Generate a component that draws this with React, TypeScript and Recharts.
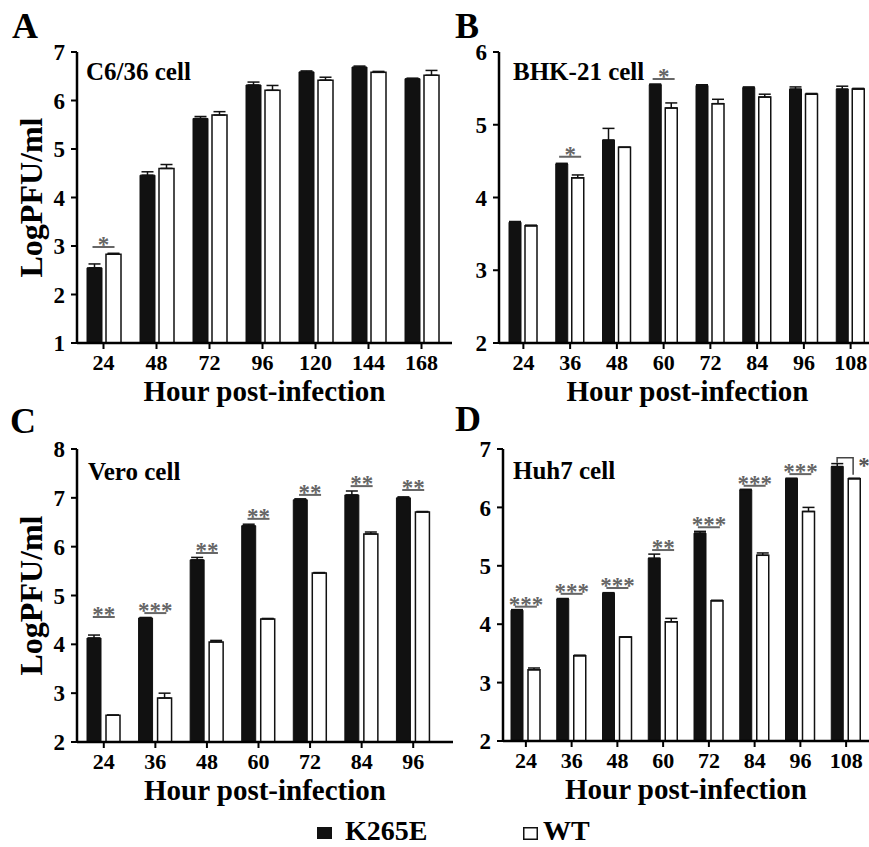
import React from 'react';
import { ComposedChart, Bar, Line, XAxis, YAxis, ErrorBar } from 'recharts';

const FONT = '"Liberation Serif", "Times New Roman", serif';

// A: C6/36 cell
const hoursA = ['24', '48', '72', '96', '120', '144', '168'];
const mutantA = [2.55, 4.46, 5.63, 6.32, 6.59, 6.69, 6.45];
const mutantErrA = [0.08, 0.07, 0.04, 0.06, 0.02, 0.02, 0.01];
const wtA = [2.83, 4.6, 5.7, 6.21, 6.42, 6.58, 6.52];
const wtErrA = [0.02, 0.08, 0.07, 0.1, 0.06, 0.02, 0.1];
const sigA = [2.98, null, null, null, null, null, null];
const starsA = ['*', '', '', '', '', '', ''];

// B: BHK-21 cell
const hoursB = ['24', '36', '48', '60', '72', '84', '96', '108'];
const mutantB = [3.66, 4.46, 4.79, 5.55, 5.54, 5.51, 5.49, 5.49];
const mutantErrB = [0.01, 0.01, 0.16, 0.01, 0.01, 0.01, 0.03, 0.04];
const wtB = [3.61, 4.27, 4.69, 5.23, 5.29, 5.38, 5.42, 5.49];
const wtErrB = [0.01, 0.04, 0, 0.07, 0.06, 0.04, 0.01, 0.01];
const sigB = [null, 4.56, null, 5.63, null, null, null, null];
const starsB = ['', '*', '', '*', '', '', '', ''];

// C: Vero cell
const hoursC = ['24', '36', '48', '60', '72', '84', '96'];
const mutantC = [4.13, 4.54, 5.73, 6.43, 6.96, 7.06, 7.0];
const mutantErrC = [0.06, 0.01, 0.05, 0.03, 0.02, 0.08, 0.02];
const wtC = [2.55, 2.9, 4.05, 4.52, 5.46, 6.26, 6.71];
const wtErrC = [0, 0.1, 0.03, 0.01, 0.01, 0.04, 0.01];
const sigC = [4.56, 4.64, 5.87, 6.57, 7.06, 7.24, 7.16];
const starsC = ['**', '***', '**', '**', '**', '**', '**'];

// D: Huh7 cell
const hoursD = ['24', '36', '48', '60', '72', '84', '96', '108'];
const mutantD = [4.24, 4.43, 4.53, 5.13, 5.56, 6.3, 6.49, 6.7];
const mutantErrD = [0.01, 0.01, 0.01, 0.07, 0.03, 0.01, 0.01, 0.05];
const wtD = [3.22, 3.46, 3.78, 4.04, 4.4, 5.18, 5.93, 6.49];
const wtErrD = [0.03, 0.01, 0, 0.06, 0.01, 0.04, 0.07, 0.01];
const sigD = [4.3, 4.52, 4.62, 5.27, 5.66, 6.37, 6.57, 6.85];
const starsD = ['***', '***', '***', '**', '***', '***', '***', '*'];
const bracketD = [false, false, false, false, false, false, false, true];

const makeRows = (
  hours: string[], k: number[], kErr: number[], wt: number[], wtErr: number[],
  sig: (number | null)[], stars: string[], bracket?: boolean[]
) =>
  hours.map((h, i) => ({
    hour: h,
    k: k[i],
    kErr: [0, kErr[i]],
    wt: wt[i],
    wtErr: [0, wtErr[i]],
    sig: sig[i],
    stars: stars[i],
    bracket: bracket ? bracket[i] : false,
  }));

const tickStyle = { fill: '#000', fontSize: 22, fontWeight: 'bold', fontFamily: FONT };
const axisStyle = { stroke: '#000', strokeWidth: 2.5 };
const tickLineStyle = { stroke: '#000', strokeWidth: 2 };

const XTitle = (props: any) => {
  const { x, y, width } = props.viewBox || {};
  return (
    <text x={x + width / 2} y={y + 58} textAnchor="middle" fontSize={29} fontWeight="bold" fontFamily={FONT} fill="#000">
      Hour post-infection
    </text>
  );
};

const YTitle = (props: any) => {
  const { x, y, height } = props.viewBox || {};
  const cy = y + height / 2;
  return (
    <text transform={`translate(${x + 42},${cy}) rotate(-90)`} textAnchor="middle" fontSize={32} fontWeight="bold" fontFamily={FONT} fill="#000">
      LogPFU/ml
    </text>
  );
};

const SigMark = (props: any) => {
  const { cx, cy, payload } = props;
  if (cx == null || cy == null || !payload || !payload.stars) return <g />;
  if (payload.bracket) {
    return (
      <g>
        <path d={`M${cx - 9},${cy + 5}V${cy}H${cx + 7}V${cy + 17}`} stroke="#444" strokeWidth={1.5} fill="none" />
        <text x={cx + 12} y={cy + 15} fontSize={23} fontWeight="bold" fontFamily={FONT} fill="#555">{payload.stars}</text>
      </g>
    );
  }
  return (
    <g>
      <line x1={cx - 11} x2={cx + 11} y1={cy} y2={cy} stroke="#666" strokeWidth={2} />
      <text x={cx} y={cy + 5} textAnchor="middle" fontSize={23} fontWeight="bold" fontFamily={FONT} fill="#666">{payload.stars}</text>
    </g>
  );
};

type PanelProps = {
  rows: any[];
  domain: [number, number];
  ticks: number[];
  width: number;
  height: number;
  margin: any;
  yAxisWidth: number;
  xAxisHeight: number;
  padding: { left: number; right: number };
  barSize: number;
  barGap: number;
  yTitle: boolean;
  rightBorder: boolean;
};

const Panel = (p: PanelProps) => (
  <ComposedChart width={p.width} height={p.height} data={p.rows} margin={p.margin} barGap={p.barGap}>
    <XAxis
      dataKey="hour"
      height={p.xAxisHeight}
      padding={p.padding}
      interval={0}
      tickSize={6}
      tickMargin={5}
      axisLine={axisStyle}
      tickLine={tickLineStyle}
      tick={tickStyle}
      label={<XTitle />}
    />
    <XAxis xAxisId="top" orientation="top" dataKey="hour" height={0} tick={false} tickLine={false} axisLine={axisStyle} />
    <YAxis
      domain={p.domain}
      ticks={p.ticks}
      allowDataOverflow
      width={p.yAxisWidth}
      tickSize={6}
      tickMargin={6}
      axisLine={axisStyle}
      tickLine={tickLineStyle}
      tick={{ ...tickStyle, fontSize: 23 }}
      label={p.yTitle ? <YTitle /> : undefined}
    />
    {p.rightBorder && (
      <YAxis yAxisId="right" orientation="right" domain={p.domain} width={0} tick={false} tickLine={false} axisLine={axisStyle} />
    )}
    <Bar dataKey="k" fill="#111" stroke="#111" strokeWidth={1} barSize={p.barSize} isAnimationActive={false}>
      <ErrorBar dataKey="kErr" width={6} stroke="#111" strokeWidth={1.5} />
    </Bar>
    <Bar dataKey="wt" fill="#fff" stroke="#111" strokeWidth={1.5} barSize={p.barSize} isAnimationActive={false}>
      <ErrorBar dataKey="wtErr" width={6} stroke="#111" strokeWidth={1.5} />
    </Bar>
    <Line dataKey="sig" stroke="none" dot={SigMark} activeDot={false} legendType="none" isAnimationActive={false} />
  </ComposedChart>
);

const abs = (left: number, top: number): React.CSSProperties => ({ position: 'absolute', left, top });

export default function App() {
  const rowsA = makeRows(hoursA, mutantA, mutantErrA, wtA, wtErrA, sigA, starsA);
  const rowsB = makeRows(hoursB, mutantB, mutantErrB, wtB, wtErrB, sigB, starsB);
  const rowsC = makeRows(hoursC, mutantC, mutantErrC, wtC, wtErrC, sigC, starsC);
  const rowsD = makeRows(hoursD, mutantD, mutantErrD, wtD, wtErrD, sigD, starsD, bracketD);

  const txt = { fontFamily: FONT, fontWeight: 'bold' as const, fill: '#000' };

  return (
    <div style={{ position: 'absolute', left: 0, top: 0, width: 869, height: 847, overflow: 'hidden', background: '#fff' }}>
      <div style={abs(0, 0)}>
        <Panel rows={rowsA} domain={[1, 7]} ticks={[1, 2, 3, 4, 5, 6, 7]} width={460} height={420}
          margin={{ top: 52, right: 8, left: 0, bottom: 0 }} yAxisWidth={77} xAxisHeight={77}
          padding={{ left: 0, right: 4 }} barSize={15} barGap={4} yTitle rightBorder />
      </div>
      <div style={abs(430, 0)}>
        <Panel rows={rowsB} domain={[2, 6]} ticks={[2, 3, 4, 5, 6]} width={450} height={420}
          margin={{ top: 52, right: 4, left: 0, bottom: 0 }} yAxisWidth={69} xAxisHeight={77}
          padding={{ left: 1, right: 2 }} barSize={12} barGap={4} yTitle={false} rightBorder={false} />
      </div>
      <div style={abs(0, 400)}>
        <Panel rows={rowsC} domain={[2, 8]} ticks={[2, 3, 4, 5, 6, 7, 8]} width={460} height={420}
          margin={{ top: 49, right: 7, left: 0, bottom: 0 }} yAxisWidth={77} xAxisHeight={78}
          padding={{ left: 1, right: 14 }} barSize={14} barGap={5} yTitle rightBorder />
      </div>
      <div style={abs(430, 400)}>
        <Panel rows={rowsD} domain={[2, 7]} ticks={[2, 3, 4, 5, 6, 7]} width={445} height={420}
          margin={{ top: 49, right: 6, left: 0, bottom: 0 }} yAxisWidth={73} xAxisHeight={79}
          padding={{ left: 0, right: 0 }} barSize={12} barGap={5} yTitle={false} rightBorder={false} />
      </div>
      <svg width={869} height={847} style={{ position: 'absolute', left: 0, top: 0, pointerEvents: 'none' }}>
        <text x={12} y={38} fontSize={36} {...txt}>A</text>
        <text x={455} y={38} fontSize={36} {...txt}>B</text>
        <text x={10} y={433} fontSize={36} {...txt}>C</text>
        <text x={455} y={431} fontSize={36} {...txt}>D</text>
        <text x={86} y={80} fontSize={25} {...txt}>C6/36 cell</text>
        <text x={513} y={80} fontSize={25} {...txt}>BHK-21 cell</text>
        <text x={88} y={480} fontSize={25} {...txt}>Vero cell</text>
        <text x={513} y={479} fontSize={25} {...txt}>Huh7 cell</text>
        <rect x={317} y={827} width={15} height={12} fill="#111" />
        <text x={345} y={840} fontSize={28} {...txt}>K265E</text>
        <rect x={523.75} y={827.75} width={13.5} height={11.5} fill="#fff" stroke="#111" strokeWidth={1.5} />
        <text x={543} y={840} fontSize={28} {...txt}>WT</text>
      </svg>
    </div>
  );
}
